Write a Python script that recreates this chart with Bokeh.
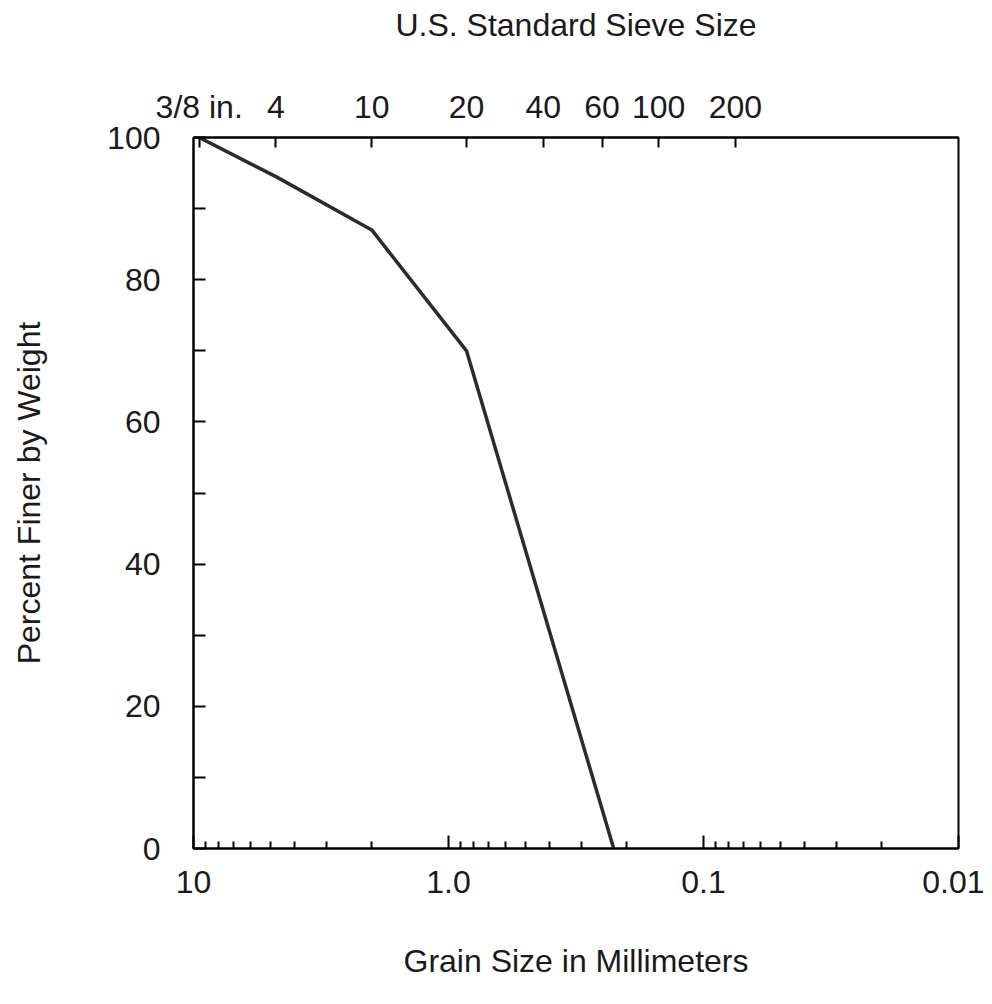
from bokeh.plotting import figure
from bokeh.models import Range1d, FixedTicker, LogAxis
from bokeh.embed import file_html
from bokeh.resources import INLINE

# --- data ---
sieve_labels = ["3/8 in.", "4", "10", "20", "40", "60", "100", "200"]
sieve_mm = [9.5, 4.75, 2.0, 0.85, 0.425, 0.25, 0.15, 0.075]

grain_mm = [9.5, 4.75, 2.0, 0.85, 0.225]
percent_finer = [100, 94.5, 87, 70, 0]

x_ticks = [10, 1.0, 0.1, 0.01]
x_tick_labels = ["10", "1.0", "0.1", "0.01"]
x_minor_ticks = [9, 8, 7, 6, 5, 4, 3, 2,
                 0.9, 0.8, 0.7, 0.6, 0.5, 0.4, 0.3, 0.2,
                 0.09, 0.08, 0.07, 0.06, 0.05, 0.04, 0.03, 0.02]
y_ticks = [0, 10, 20, 30, 40, 50, 60, 70, 80, 90, 100]
y_tick_labels = ["0", "", "20", "", "40", "", "60", "", "80", "", "100"]

FONT = "Liberation Sans"
TXT = "#1a1a1a"
FS = "32px"

p = figure(width=984, height=988, x_axis_type="log",
           x_range=Range1d(10, 0.01), y_range=Range1d(0, 100),
           output_backend="svg", toolbar_location=None,
           min_border_left=193, min_border_right=26,
           min_border_top=137, min_border_bottom=140)

p.xgrid.visible = False
p.ygrid.visible = False
p.outline_line_color = "black"
p.outline_line_width = 2
p.outline_line_alpha = 1.0
p.background_fill_color = "white"
p.border_fill_color = "white"


def style_axis(ax):
    ax.axis_line_color = "black"
    ax.axis_line_width = 2
    ax.major_tick_line_color = "black"
    ax.major_tick_line_width = 2
    ax.minor_tick_line_color = "black"
    ax.minor_tick_line_width = 2
    ax.major_tick_out = 0
    ax.minor_tick_out = 0
    ax.major_label_text_font = FONT
    ax.major_label_text_font_size = FS
    ax.major_label_text_color = TXT
    ax.axis_label_text_font = FONT
    ax.axis_label_text_font_size = FS
    ax.axis_label_text_font_style = "normal"
    ax.axis_label_text_color = TXT


# bottom axis: grain size
xa = p.xaxis[0]
xa.ticker = FixedTicker(ticks=x_ticks, minor_ticks=x_minor_ticks)
xa.major_label_overrides = dict(zip(x_ticks, x_tick_labels))
xa.axis_label = "Grain Size in Millimeters"
style_axis(xa)
xa.major_tick_in = 13
xa.minor_tick_in = 7
xa.major_label_standoff = 22
xa.axis_label_standoff = 47

# left axis: percent finer
ya = p.yaxis[0]
ya.ticker = FixedTicker(ticks=y_ticks, minor_ticks=[])
ya.major_label_overrides = dict(zip(y_ticks, y_tick_labels))
ya.axis_label = "Percent Finer by Weight"
style_axis(ya)
ya.major_tick_in = 12
ya.minor_tick_in = 0
ya.minor_tick_line_color = None
ya.major_label_standoff = 33
ya.axis_label_standoff = 57

# top axis: sieve sizes
ta = LogAxis(ticker=FixedTicker(ticks=sieve_mm, minor_ticks=[]),
             major_label_overrides=dict(zip(sieve_mm, sieve_labels)),
             axis_label="U.S. Standard Sieve Size")
style_axis(ta)
ta.major_tick_in = 10
ta.minor_tick_line_color = None
ta.major_label_standoff = 13
ta.axis_label_standoff = 43
p.add_layout(ta, "above")

p.line(grain_mm, percent_finer, line_color="#2b2b2b", line_width=3.5)

open("out.html", "w").write(file_html(p, INLINE))
